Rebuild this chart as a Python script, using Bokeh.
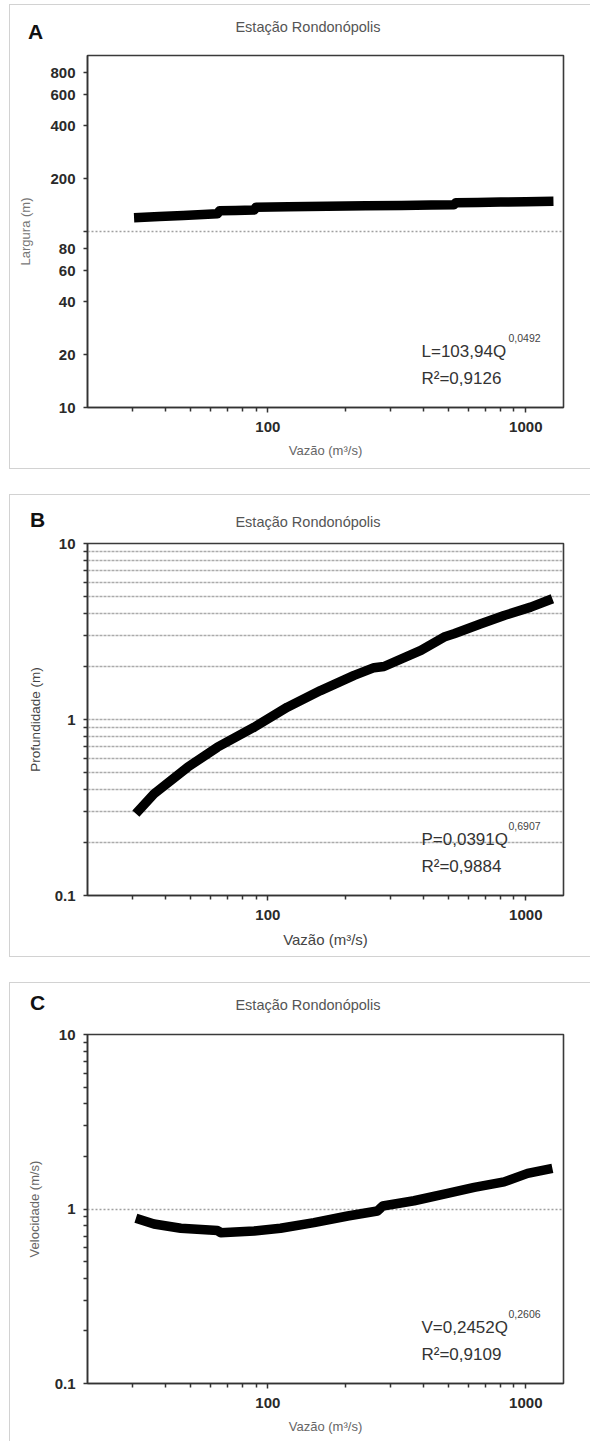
from bokeh.plotting import figure
from bokeh.layouts import column
from bokeh.models import FixedTicker, CustomJSTickFormatter, Label, Range1d, Div
from bokeh.embed import file_html
from bokeh.resources import INLINE

# ---------------- data ----------------
TITLE = "Estação Rondonópolis"
X_LABEL = "Vazão (m³/s)"
X_RANGE = (20, 1400)
X_MAJOR = [100, 1000]
X_MINOR = [30, 40, 50, 60, 70, 80, 90, 200, 300, 400, 500, 600, 700, 800, 900]

# Panel A - Largura
Q_A = [30.3, 38, 47, 56, 63.8, 65, 75, 88.5, 90, 120, 170, 240, 330, 430, 527, 535, 650, 800, 1000, 1280]
L_A = [119.6, 121.5, 123.2, 124.8, 126.1, 131, 131.8, 132.4, 137.4, 138.2, 139.2, 140.0, 140.7, 141.3, 141.8,
       145.6, 146.3, 147.0, 147.8, 148.6]
Y_A_RANGE = (10, 1000)
Y_A_TICKS = [10, 20, 40, 60, 80, 100, 200, 400, 600, 800]
Y_A_GRID = [100]

# Panel B - Profundidade
Q_B = [30.8, 36.2, 48.9, 63.8, 88.5, 119, 160, 216, 258, 282, 392, 482, 527, 670, 824, 1045, 1268]
P_B = [0.292, 0.378, 0.536, 0.696, 0.904, 1.175, 1.46, 1.78, 1.97, 2.0, 2.47, 2.94, 3.07, 3.5, 3.9, 4.35, 4.85]
Y_B_RANGE = (0.1, 10)
Y_B_TICKS = [0.1, 1, 10]
Y_B_MINOR = [0.2, 0.3, 0.4, 0.5, 0.6, 0.7, 0.8, 0.9, 2, 3, 4, 5, 6, 7, 8, 9]
Y_B_GRID = [0.2, 0.3, 0.4, 0.5, 0.6, 0.7, 0.8, 0.9, 1, 2, 3, 4, 5, 6, 7, 8, 9]

# Panel C - Velocidade
Q_C = [30.8, 36.2, 46, 63.8, 65.7, 88.5, 112, 151, 204, 266, 279, 369, 497, 631, 824, 1016, 1268]
V_C = [0.885, 0.821, 0.776, 0.752, 0.732, 0.749, 0.776, 0.835, 0.912, 0.974, 1.04, 1.115, 1.23, 1.33, 1.43, 1.6, 1.71]
Y_C_RANGE = (0.1, 10)
Y_C_TICKS = [0.1, 1, 10]
Y_C_MINOR = [0.2, 0.3, 0.4, 0.5, 0.6, 0.7, 0.8, 0.9, 2, 3, 4, 5, 6, 7, 8, 9]
Y_C_GRID = [1]

FONT = "Liberation Sans"


def header(letter, letter_left, letter_top, title_top):
    html = (
        '<div style="position:relative;width:580px;height:40px;margin:0;padding:0;'
        'font-family:\'Liberation Sans\',Arial,sans-serif;">'
        f'<div style="position:absolute;left:{letter_left}px;top:{letter_top}px;font-size:21px;'
        f'line-height:1;font-weight:bold;color:#111;">{letter}</div>'
        f'<div style="position:absolute;left:0;width:596px;top:{title_top}px;text-align:center;'
        f'font-size:14.5px;line-height:1;color:#555;">{TITLE}</div>'
        '</div>'
    )
    return Div(text=html, width=580, height=40, margin=0)


def make_panel(height, b_top, b_bottom, y_range, y_ticks, y_minor, y_grid, y_label,
               q, v, eq_main, eq_exp, r2, grid_dash, grid_color, ylab_color, ylab_size,
               xlab_size, xlab_color, ylab_standoff):
    p = figure(width=580, height=height, x_axis_type="log", y_axis_type="log",
               x_range=Range1d(*X_RANGE), y_range=Range1d(*y_range),
               output_backend="svg", toolbar_location=None,
               min_border_left=77, min_border_right=27, min_border_top=b_top,
               min_border_bottom=b_bottom, margin=0,
               background_fill_color="white", border_fill_color="white")
    p.outline_line_color = "#3a3a3a"
    p.outline_line_width = 1.6

    xa = p.xaxis[0]
    xa.ticker = FixedTicker(ticks=X_MAJOR, minor_ticks=X_MINOR)
    xa.formatter = CustomJSTickFormatter(code="return tick.toString();")
    xa.axis_label = X_LABEL
    xa.axis_label_text_font = FONT
    xa.axis_label_text_font_style = "normal"
    xa.axis_label_text_font_size = xlab_size
    xa.axis_label_text_color = xlab_color
    xa.axis_label_standoff = 8
    xa.major_label_text_font = FONT
    xa.major_label_text_font_style = "bold"
    xa.major_label_text_font_size = "15px"
    xa.major_label_text_color = "#2a2a2a"
    xa.major_label_standoff = 9
    xa.major_tick_out = 5
    xa.major_tick_in = 0
    xa.minor_tick_out = 4
    xa.minor_tick_in = 0
    xa.axis_line_color = "#333333"
    xa.axis_line_width = 1.5
    xa.major_tick_line_color = "#333333"
    xa.minor_tick_line_color = "#333333"
    xa.major_tick_line_width = 1.5
    xa.minor_tick_line_width = 1.5

    ya = p.yaxis[0]
    ya.ticker = FixedTicker(ticks=y_ticks, minor_ticks=y_minor)
    ya.formatter = CustomJSTickFormatter(code="return tick == 100 ? '' : tick.toString();")
    ya.axis_label = y_label
    ya.axis_label_text_font = FONT
    ya.axis_label_text_font_style = "normal"
    ya.axis_label_text_font_size = ylab_size
    ya.axis_label_text_color = ylab_color
    ya.axis_label_standoff = ylab_standoff
    ya.major_label_text_font = FONT
    ya.major_label_text_font_style = "bold"
    ya.major_label_text_font_size = "15px"
    ya.major_label_text_color = "#2a2a2a"
    ya.major_label_standoff = 8
    ya.major_tick_out = 4
    ya.major_tick_in = 0
    ya.minor_tick_out = 4
    ya.minor_tick_in = 0
    ya.axis_line_color = "#333333"
    ya.axis_line_width = 1.5
    ya.major_tick_line_color = "#333333"
    ya.minor_tick_line_color = "#333333"
    ya.major_tick_line_width = 1.5
    ya.minor_tick_line_width = 1.5

    p.xgrid.visible = False
    p.ygrid.ticker = FixedTicker(ticks=y_grid)
    p.ygrid.grid_line_color = grid_color
    p.ygrid.grid_line_width = 1.3
    p.ygrid.grid_line_dash = grid_dash

    p.line(q, v, line_width=9.5, color="black", line_cap="butt", line_join="round")

    # equation
    p.add_layout(Label(x=334, y=56, x_units="screen", y_units="screen", text=eq_main,
                       text_font=FONT, text_font_size="17px", text_color="#333333",
                       text_baseline="alphabetic", text_align="left"))
    p.add_layout(Label(x=421, y=70, x_units="screen", y_units="screen", text=eq_exp,
                       text_font=FONT, text_font_size="10.5px", text_color="#444444",
                       text_baseline="alphabetic", text_align="left"))
    p.add_layout(Label(x=334, y=29, x_units="screen", y_units="screen", text=r2,
                       text_font=FONT, text_font_size="17px", text_color="#333333",
                       text_baseline="alphabetic", text_align="left"))
    return p


BOX = {"outline": "1px solid #d2d2d2"}

pA = make_panel(423, 10, 61, Y_A_RANGE, Y_A_TICKS, [], Y_A_GRID, "Largura (m)",
                Q_A, L_A, "L=103,94Q", "0,0492", "R²=0,9126", "2 2", "#a0a0a0",
                "#777777", "13px", "13px", "#666666", 14)
pB = make_panel(421, 8, 61, Y_B_RANGE, Y_B_TICKS, Y_B_MINOR, Y_B_GRID,
                "Profundidade (m)", Q_B, P_B, "P=0,0391Q", "0,6907", "R²=0,9884", "3 1", "#ababab",
                "#444444", "13.5px", "15px", "#444444", 9)
pC = make_panel(418, 11, 58, Y_C_RANGE, Y_C_TICKS, Y_C_MINOR, Y_C_GRID,
                "Velocidade (m/s)", Q_C, V_C, "V=0,2452Q", "0,2606", "R²=0,9109", "2 2", "#a0a0a0",
                "#666666", "13px", "13px", "#666666", 10)

panelA = column(header("A", 18, 16, 15), pA, spacing=0, margin=(5, 0, 0, 10), styles=BOX)
panelB = column(header("B", 20, 14, 20), pB, spacing=0, margin=(27, 0, 0, 10), styles=BOX)
panelC = column(header("C", 20, 9, 15), pC, spacing=0, margin=(27, 0, 0, 10), styles=BOX)

layout = column(panelA, panelB, panelC, spacing=0, margin=0)
open("out.html", "w").write(file_html(layout, INLINE))
